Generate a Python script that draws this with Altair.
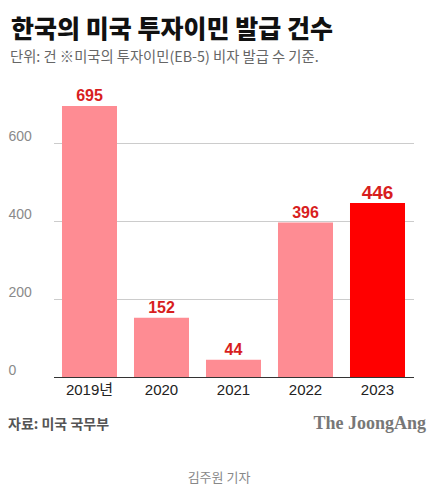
import altair as alt
import pandas as pd

years = ["2019년", "2020", "2021", "2022", "2023"]
counts = [695, 152, 44, 396, 446]
highlight = [False, False, False, False, True]

title_text = "한국의 미국 투자이민 발급 건수"
subtitle_text = "단위: 건  ※미국의 투자이민(EB-5) 비자 발급 수 기준."
source_text = "자료: 미국 국무부"
brand_text = "The JoongAng"
credit_text = "김주원 기자"

df = pd.DataFrame({"year": years, "count": counts, "hl": highlight})

SANS = "Liberation Sans, Arial, Noto Sans CJK KR, sans-serif"
KR = "Noto Sans CJK KR, sans-serif"

x_enc = alt.X(
    "year:N",
    sort=years,
    scale=alt.Scale(range=[43.5, 403.5], paddingInner=0.236, paddingOuter=0.118),
    axis=alt.Axis(
        title=None, ticks=False, domain=True, domainColor="#333333", domainWidth=1.2,
        labelFont=SANS, labelFontSize=15, labelColor="#222222", labelPadding=5,
        labelAngle=0,
    ),
)
y_enc = alt.Y(
    "count:Q",
    scale=alt.Scale(domain=[0, 700], nice=False),
    axis=alt.Axis(
        title=None, values=[0, 200, 400, 600], ticks=False, domain=False,
        grid=True, gridColor="#cccccc", gridWidth=1,
        labelAlign="left", labelBaseline="bottom", labelPadding=2,
        labelFont=SANS, labelFontSize=14, labelColor="#8a8a8a",
    ),
)

base = alt.Chart(df)

bars = base.mark_bar().encode(
    x=x_enc,
    y=y_enc,
    color=alt.condition("datum.hl", alt.value("#ff0000"), alt.value("#fe8c93")),
)

labels = base.mark_text(
    baseline="alphabetic", dy=-4.5, font=SANS, fontWeight="bold", color="#d81e1e"
).encode(
    x=alt.X("year:N", sort=years),
    y="count:Q",
    text="count:Q",
    size=alt.condition("datum.hl", alt.value(19), alt.value(16)),
)

def txt(s, x, y, size, color, weight="normal", align="left", font=KR, baseline="alphabetic"):
    return alt.Chart(pd.DataFrame({"t": [s]})).mark_text(
        align=align, baseline=baseline, fontSize=size, color=color,
        fontWeight=weight, font=font,
    ).encode(text="t:N", x=alt.value(x), y=alt.value(y))

title = txt(title_text, 1, -66.5, 25, "#111111", weight=900)
subtitle = txt(subtitle_text, 0, -42, 14.3, "#666666")
source = txt(source_text, -2, 325, 14, "#555555", weight="bold")
brand = txt(brand_text, 416, 325, 18, "#777777", weight="bold", align="right",
            font="Liberation Serif, DejaVu Serif, serif")
credit = txt(credit_text, 209, 378, 13, "#888888", align="center")

chart = alt.layer(bars, labels, title, subtitle, source, brand, credit).properties(
    width=418,
    height=273,
    autosize=alt.AutoSizeParams(type="none"),
    padding={"left": 2, "top": 96, "right": 5, "bottom": 110},
    background="white",
).configure_view(stroke=None)

chart.save("out.html", embed_options={"renderer": "svg", "actions": False})
